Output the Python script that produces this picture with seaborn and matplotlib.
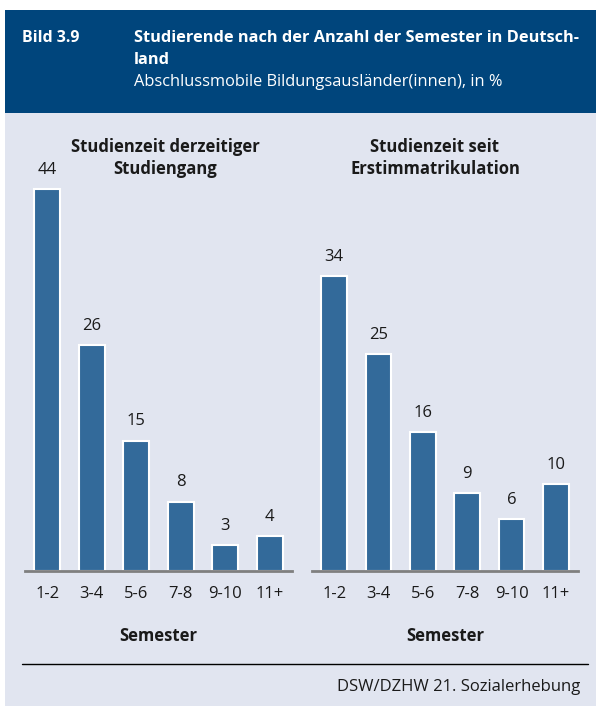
import matplotlib
matplotlib.use("Agg")
import matplotlib.pyplot as plt
import seaborn as sns
import pandas as pd
from matplotlib.patches import Rectangle

semester = ["1-2", "3-4", "5-6", "7-8", "9-10", "11+"]
derzeitig = [44, 26, 15, 8, 3, 4]
seit_erst = [34, 25, 16, 9, 6, 10]

panel_titles = ["Studienzeit derzeitiger\nStudiengang", "Studienzeit seit\nErstimmatrikulation"]

HEADER = "#00457C"
BG = "#E1E5F0"
BAR = "#336A9A"
TXT = "#1A1A1A"

sns.set_theme(style="white")
plt.rcParams["font.family"] = ["Open Sans", "DejaVu Sans"]

W, H = 596, 706
fig = plt.figure(figsize=(W / 100, H / 100), dpi=100, facecolor="white")

# background panels, behind the axes
fig.patches.append(Rectangle((5 / W, 0), 1 - 5 / W, (H - 10) / H, transform=fig.transFigure,
                             facecolor=BG, edgecolor="none", zorder=-10))
fig.patches.append(Rectangle((5 / W, (H - 113) / H), 1 - 5 / W, 103 / H, transform=fig.transFigure,
                             facecolor=HEADER, edgecolor="none", zorder=-9))

fig.text(22 / W, 1 - 38 / H, "Bild 3.9", color="white", fontsize=11.5, fontweight="bold", va="center")
fig.text(134 / W, 1 - 38 / H, "Studierende nach der Anzahl der Semester in Deutsch-",
         color="white", fontsize=11.8, fontweight="bold", va="center")
fig.text(134 / W, 1 - 60 / H, "land", color="white", fontsize=11.8, fontweight="bold", va="center")
fig.text(134 / W, 1 - 82 / H, "Abschlussmobile Bildungsausländer(innen), in %",
         color="white", fontsize=11.8, va="center")

base_y = 571
top_y = 130
ymax = 44 * (base_y - top_y) / (base_y - 189)

panels = [(25, 292, derzeitig, 165), (312, 578, seit_erst, 435)]
for (x0, x1, vals, tx), title in zip(panels, panel_titles):
    ax = fig.add_axes([x0 / W, (H - base_y) / H, (x1 - x0) / W, (base_y - top_y) / H])
    ax.set_facecolor("none")
    df = pd.DataFrame({"Semester": semester, "Anteil": vals})
    sns.barplot(data=df, x="Semester", y="Anteil", color=BAR, width=0.58,
                edgecolor="white", linewidth=1.5, saturation=1, ax=ax)
    ax.set_xlim(-0.5, 5.5)
    ax.set_ylim(0, ymax)
    for i, v in enumerate(vals):
        ax.text(i, v + 1.3, str(v), ha="center", va="bottom", fontsize=12, color=TXT)
    for s in ["top", "left", "right"]:
        ax.spines[s].set_visible(False)
    ax.spines["bottom"].set_color("#7F7F7F")
    ax.spines["bottom"].set_linewidth(2)
    ax.set_yticks([])
    ax.tick_params(axis="x", length=0, pad=11, labelsize=12, labelcolor=TXT)
    ax.set_ylabel("")
    ax.set_xlabel("Semester", fontsize=12, fontweight="bold", color=TXT, labelpad=18)
    fig.text(tx / W, 1 - 158 / H, title, ha="center", va="center",
             fontsize=12, fontweight="bold", color=TXT, linespacing=1.35)

fig.add_artist(plt.Line2D([22 / W, 588 / W], [1 - 664 / H, 1 - 664 / H], transform=fig.transFigure,
                          color="black", linewidth=1))
fig.text(580 / W, 1 - 687 / H, "DSW/DZHW 21. Sozialerhebung", ha="right", va="center",
         fontsize=12, color=TXT)

fig.savefig("out.png", dpi=100, facecolor=fig.get_facecolor())
